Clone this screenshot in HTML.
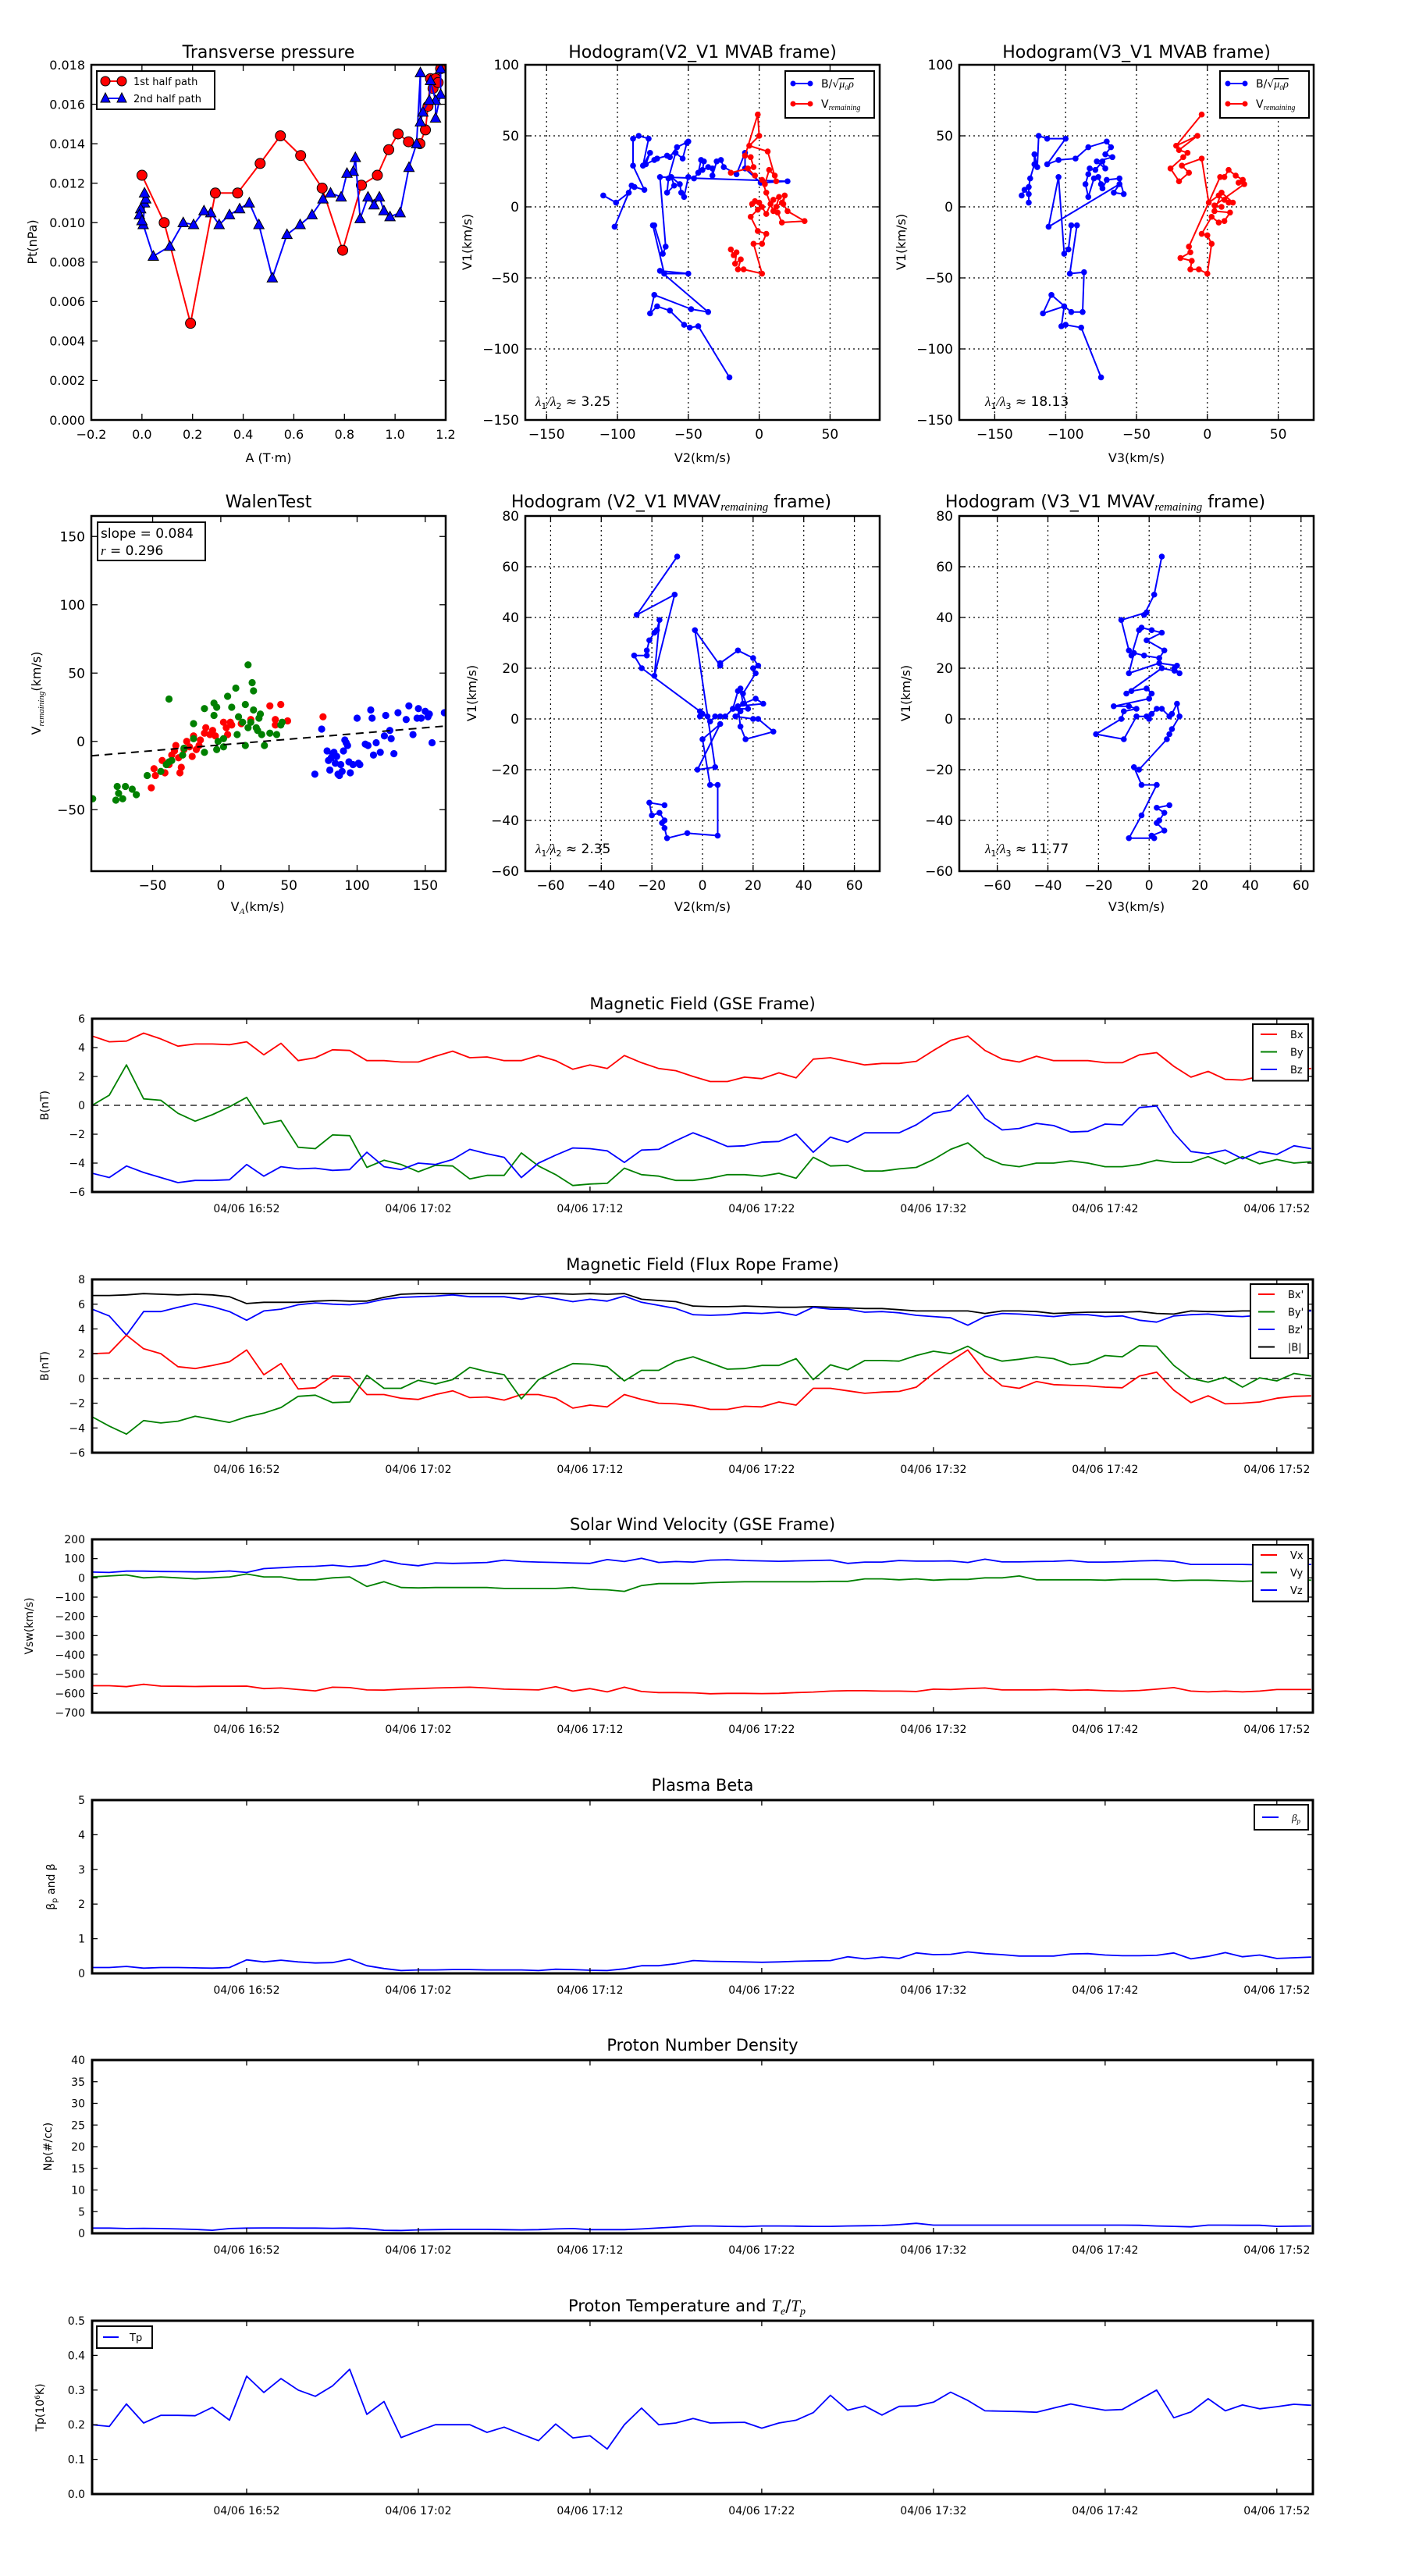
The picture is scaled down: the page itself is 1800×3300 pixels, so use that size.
<!DOCTYPE html>
<html><head><meta charset="utf-8"><title>Flux rope analysis</title>
<style>
html,body{margin:0;padding:0;background:#fff;}
svg{display:block;font-family:"DejaVu Sans","Liberation Sans",sans-serif;}
</style></head>
<body>
<svg id="fig" xmlns="http://www.w3.org/2000/svg" width="1800" height="3300" viewBox="0 0 1800 3300">
<rect x="0" y="0" width="1800" height="3300" fill="#fff"/>
</svg>
<script>
// ---------- data: transverse pressure ----------
const tpRedA=[0.0,0.088,0.192,0.29,0.378,0.467,0.547,0.627,0.712,0.793,0.867,0.93,0.975,1.012,1.053,1.098,1.12,1.13,1.14,1.15,1.16,1.17,1.18];
const tpRedP=[0.0124,0.0100,0.0049,0.0115,0.0115,0.0130,0.0144,0.0134,0.01175,0.0086,0.0119,0.0124,0.0137,0.0145,0.0141,0.0140,0.0147,0.0159,0.0173,0.0168,0.0173,0.0171,0.0178];
const tpBlueA=[1.18,1.18,1.16,1.16,1.14,1.135,1.11,1.1,1.1,1.085,1.055,1.02,0.98,0.956,0.938,0.917,0.893,0.862,0.843,0.835,0.81,0.787,0.745,0.715,0.672,0.625,0.573,0.515,0.462,0.424,0.386,0.346,0.305,0.272,0.245,0.204,0.163,0.11,0.045,0.005,0.01,0.015,0.01,-0.005,-0.01,0.0];
const tpBlueP=[0.0178,0.0165,0.0153,0.0162,0.0172,0.0162,0.0156,0.0151,0.0176,0.0140,0.0128,0.0105,0.0103,0.0106,0.0113,0.0109,0.0113,0.0102,0.0133,0.0126,0.0125,0.0113,0.0115,0.0112,0.0104,0.0099,0.0094,0.0072,0.0099,0.0110,0.0107,0.0104,0.0099,0.0105,0.0106,0.0099,0.0100,0.0088,0.0083,0.0099,0.0110,0.0112,0.0115,0.0107,0.0104,0.0101];
// ---------- hodogram V2-V1 MVAB ----------
const h1bX=[-110,-101,-92,-102,-90,-88,-81,-89,-89,-85,-78,-82,-77,-80,-74,-72,-65,-63,-58,-50,-51,-54,-59,-64,-65,-60,-62,-56,-55,-53,-50,-46,-43,-41,-39,-40,-36,-33,-33,-30,-27,-25,-16,-10,-10,1,20,-70,-66,-68,-74,-75,-67,-50,-70,-36,-48,-74,-77,-72,-63,-53,-49,-43,-21];
const h1bY=[8,3,10,-14,15,14,12,29,48,50,48,29,38,30,33,34,36,35,42,46,45,34,38,20,10,15,21,16,10,7,21,20,24,33,32,26,28,27,22,32,33,28,23,38,27,17,18,21,-28,-33,-13,-13,-47,-47,-45,-74,-72,-62,-75,-70,-73,-83,-85,-84,-120];
const h1rX=[-20,-18,-16,-17,-13,-15,-11,2,-4,2,5,-1,-6,-1,2,-3,-5,0,5,8,10,14,12,16,18,17,20,32,16,13,10,5,2,4,7,11,12,6,-7,0,-1,-10,-6,-4,-20,-8,-3];
const h1rY=[-30,-34,-32,-40,-37,-44,-44,-47,-26,-26,-19,-17,-7,-2,0,4,2,3,-5,2,5,7,0,3,8,2,-3,-10,-11,-4,-3,10,19,16,26,22,18,39,43,50,65,36,35,28,24,27,22];
// ---------- hodogram V3-V1 MVAB ----------
const h2bX=[-131,-129,-126,-126,-126,-125,-122,-122,-120,-119,-113,-100,-113,-105,-93,-84,-71,-68,-72,-67,-78,-72,-74,-79,-83,-84,-86,-84,-80,-77,-75,-74,-71,-62,-59,-66,-62,-112,-105,-101,-98,-96,-92,-97,-87,-88,-96,-110,-116,-101,-103,-100,-89,-75];
const h2bY=[8,12,9,3,14,20,30,37,28,50,48,48,30,33,34,42,46,42,37,35,32,27,32,26,27,23,16,7,20,21,16,13,19,20,9,10,16,-14,21,-33,-30,-13,-13,-47,-46,-74,-74,-62,-75,-70,-84,-83,-85,-120];
const h2rX=[-4,-22,-7,-20,-14,-17,-26,-20,-13,-18,-4,1,8,12,15,18,10,5,16,12,8,3,-4,0,3,0,-6,-12,-11,-19,-12,-13,9,12,15,20,25,22,26,5,10];
const h2rY=[65,43,50,40,38,35,27,18,24,29,34,3,8,5,3,3,10,-3,-4,-10,-11,-7,-19,-20,-26,-47,-44,-44,-38,-36,-32,-28,21,21,26,22,19,17,16,1,0];
// ---------- hodograms MVAV ----------
const h3X=[-10,-26,-11,-19,-17,-18,-19,-21,-22,-22,-27,-24,-1,-1,0,2,3,5,7,9,12,15,13,20,22,28,17,15,14,24,21,16,15,18,12,14,16,21,20,22,20,14,7,7,-3,5,-2,7,0,3,6,6,-6,-14,-15,-16,-15,-17,-20,-21,-15];
const h3Y=[64,41,49,17,39,35,34,31,27,25,25,20,3,1,2,1,-1,1,1,1,4,3,1,0,0,-5,-8,-3,5,6,8,6,12,4,4,11,10,18,20,21,24,27,22,21,35,-19,-20,-2,-8,-26,-26,-46,-45,-47,-43,-41,-40,-37,-38,-33,-34];
const h4X=[5,2,-2,-1,-11,-8,-7,-4,-3,1,5,-1,6,4,-2,-6,-8,4,11,10,12,10,5,-9,-7,-1,1,0,-14,-8,-5,-10,-11,-21,-10,-5,-1,0,1,3,5,8,9,11,12,9,8,7,-4,-6,-3,3,-3,-8,2,1,6,3,4,6,3,8];
const h4Y=[64,49,41,42,39,27,25,35,36,35,34,31,27,24,25,26,18,22,21,20,18,19,20,10,11,12,10,8,5,5,4,3,0,-6,-8,1,1,0,2,4,4,1,2,6,1,-4,-6,-8,-20,-19,-26,-26,-38,-47,-47,-46,-44,-41,-40,-37,-35,-34];
// ---------- Walen test ----------
const wBlueX=[69,74,78,79,80,81,82,83,84,85,86,87,88,89,90,91,92,93,94,95,97,100,101,102,106,108,110,111,112,114,117,120,121,124,125,127,130,136,138,141,144,145,147,150,152,153,155,164];
const wBlueY=[-24,9,-7,-14,-21,-12,-9,-8,-16,-11,-24,-25,-17,-22,-7,1,-1,-3,-15,-23,-17,17,-16,-17,-2,-3,23,17,-10,-1,-8,4,19,8,2,-9,21,16,26,5,17,24,17,22,18,20,-1,21];
const wGreenX=[-94,-77,-76,-75,-72,-70,-65,-62,-54,-44,-38,-38,-40,-36,-28,-27,-20,-20,-12,-12,-5,-5,-3,-3,-2,2,2,5,8,11,13,12,16,18,18,20,20,22,23,24,24,26,27,28,29,30,32,36,41,44,45];
const wGreenY=[-42,-43,-33,-38,-42,-33,-35,-39,-25,-22,31,-15,-17,-14,-10,-5,13,2,24,-8,28,19,25,-6,0,2,-4,33,25,39,18,5,14,27,-3,56,10,14,43,37,23,10,8,17,20,5,-3,6,5,12,14];
const wRedX=[-51,-49,-48,-43,-41,-38,-36,-34,-33,-31,-30,-29,-27,-25,-23,-21,-20,-18,-16,-15,-12,-11,-8,-6,-4,2,4,5,7,8,36,40,40,44,49,75,22,15];
const wRedY=[-34,-20,-25,-14,-23,-17,-10,-7,-3,-12,-23,-19,-6,0,-4,-11,4,-6,-3,1,6,10,5,8,4,14,10,5,14,12,26,16,12,27,15,18,16,13];
const walenSlope=0.084;
const walenIntercept=-2.6;
// ---------- time series (1-min cadence starting 04/06 16:43) ----------
const timeTickMinutes=[9,19,29,39,49,59,69];
const timeTickLabels=["04/06 16:52","04/06 17:02","04/06 17:12","04/06 17:22","04/06 17:32","04/06 17:42","04/06 17:52"];
const bxGSE=[4.8,4.4,4.45,5.0,4.6,4.1,4.25,4.25,4.2,4.4,3.5,4.3,3.1,3.3,3.85,3.8,3.1,3.1,3.0,3.0,3.4,3.75,3.3,3.35,3.1,3.1,3.45,3.1,2.5,2.8,2.55,3.45,2.95,2.55,2.4,2.0,1.65,1.65,1.95,1.85,2.25,1.9,3.2,3.3,3.05,2.8,2.9,2.9,3.05,3.8,4.5,4.8,3.8,3.2,3.0,3.4,3.1,3.1,3.1,2.95,2.95,3.5,3.65,2.7,1.95,2.35,1.8,1.75,2.0,2.4,2.5,2.55];
const byGSE=[0.0,0.7,2.8,0.45,0.35,-0.55,-1.1,-0.65,-0.1,0.55,-1.3,-1.05,-2.9,-3.0,-2.05,-2.1,-4.3,-3.8,-4.1,-4.6,-4.15,-4.2,-5.1,-4.85,-4.85,-3.3,-4.2,-4.8,-5.55,-5.45,-5.4,-4.35,-4.8,-4.9,-5.2,-5.2,-5.05,-4.8,-4.8,-4.9,-4.7,-5.05,-3.6,-4.2,-4.15,-4.55,-4.55,-4.4,-4.3,-3.75,-3.05,-2.6,-3.6,-4.1,-4.25,-4.0,-4.0,-3.85,-4.0,-4.25,-4.25,-4.1,-3.8,-3.95,-3.95,-3.55,-4.05,-3.55,-4.05,-3.75,-4.0,-3.9];
const bzGSE=[-4.7,-5.0,-4.2,-4.65,-5.0,-5.35,-5.2,-5.2,-5.15,-4.1,-4.9,-4.25,-4.4,-4.35,-4.5,-4.45,-3.25,-4.25,-4.45,-4.0,-4.1,-3.75,-3.05,-3.35,-3.6,-5.0,-4.0,-3.45,-2.95,-3.0,-3.15,-3.95,-3.1,-3.05,-2.45,-1.9,-2.35,-2.85,-2.8,-2.55,-2.5,-2.0,-3.25,-2.2,-2.55,-1.9,-1.9,-1.9,-1.35,-0.55,-0.35,0.7,-0.9,-1.7,-1.6,-1.25,-1.4,-1.85,-1.8,-1.3,-1.35,-0.15,-0.05,-1.9,-3.2,-3.35,-3.1,-3.7,-3.2,-3.4,-2.8,-3.0];
const bxFR=[2.0,2.05,3.5,2.4,2.0,0.95,0.8,1.05,1.35,2.3,0.3,1.2,-0.85,-0.75,0.2,0.15,-1.3,-1.3,-1.6,-1.7,-1.3,-1.0,-1.55,-1.5,-1.75,-1.3,-1.3,-1.6,-2.4,-2.15,-2.3,-1.3,-1.7,-2.0,-2.05,-2.2,-2.5,-2.5,-2.25,-2.3,-1.9,-2.15,-0.8,-0.8,-1.0,-1.2,-1.1,-1.05,-0.7,0.4,1.4,2.3,0.5,-0.6,-0.8,-0.25,-0.5,-0.55,-0.6,-0.7,-0.75,0.2,0.5,-0.95,-1.95,-1.4,-2.05,-2.0,-1.9,-1.6,-1.45,-1.4];
const byFR=[-3.1,-3.85,-4.5,-3.4,-3.6,-3.45,-3.05,-3.3,-3.55,-3.1,-2.8,-2.35,-1.45,-1.35,-1.95,-1.9,0.25,-0.8,-0.8,-0.15,-0.45,-0.1,0.9,0.55,0.3,-1.65,-0.1,0.6,1.2,1.15,0.95,-0.2,0.65,0.65,1.4,1.75,1.25,0.75,0.8,1.05,1.05,1.6,-0.1,1.1,0.7,1.45,1.45,1.4,1.85,2.2,2.0,2.6,1.8,1.4,1.55,1.75,1.6,1.1,1.25,1.85,1.75,2.65,2.6,1.05,0.0,-0.3,0.1,-0.7,0.05,-0.2,0.4,0.2];
const bzFR=[5.6,5.05,3.5,5.4,5.4,5.75,6.05,5.8,5.4,4.7,5.45,5.6,5.95,6.1,6.0,5.95,6.1,6.4,6.55,6.6,6.65,6.75,6.6,6.6,6.6,6.4,6.65,6.45,6.2,6.4,6.25,6.65,6.15,5.9,5.65,5.15,5.1,5.15,5.3,5.25,5.35,5.1,5.75,5.6,5.6,5.35,5.4,5.3,5.1,5.0,4.9,4.3,5.0,5.25,5.2,5.1,5.0,5.15,5.15,5.0,5.05,4.7,4.55,5.05,5.15,5.2,5.05,5.0,5.1,5.3,5.4,5.45];
const bMag=[6.7,6.7,6.75,6.85,6.8,6.75,6.8,6.75,6.6,6.05,6.15,6.15,6.15,6.25,6.3,6.25,6.25,6.55,6.8,6.85,6.85,6.85,6.85,6.85,6.85,6.85,6.8,6.85,6.8,6.85,6.8,6.85,6.4,6.3,6.2,5.85,5.8,5.8,5.85,5.8,5.75,5.75,5.8,5.75,5.7,5.65,5.65,5.55,5.45,5.45,5.45,5.45,5.25,5.45,5.45,5.4,5.25,5.3,5.35,5.35,5.35,5.4,5.25,5.2,5.45,5.4,5.4,5.45,5.45,5.45,5.55,5.5];
const vx=[-560,-560,-565,-553,-562,-563,-564,-563,-563,-562,-575,-572,-580,-587,-568,-570,-582,-583,-578,-575,-572,-570,-568,-572,-578,-580,-582,-565,-588,-575,-592,-568,-590,-596,-596,-597,-602,-600,-600,-601,-600,-596,-593,-588,-586,-586,-588,-588,-590,-578,-580,-575,-572,-582,-582,-582,-580,-584,-582,-586,-588,-585,-578,-570,-588,-592,-588,-592,-588,-580,-580,-580];
const vy=[5,10,15,0,5,0,-5,0,5,20,5,5,-10,-10,0,5,-45,-20,-50,-52,-50,-50,-50,-50,-55,-55,-55,-55,-50,-60,-62,-70,-40,-30,-30,-30,-25,-22,-20,-20,-20,-20,-20,-18,-18,-5,-5,-10,-5,-12,-8,-8,0,0,10,-10,-10,-10,-10,-12,-8,-8,-8,-15,-12,-12,-15,-18,-15,-15,-10,-12];
const vz=[30,28,35,35,33,32,31,31,36,28,48,53,58,60,66,58,65,90,72,63,78,75,77,80,92,85,82,80,77,75,95,85,102,80,85,82,92,94,90,88,86,88,90,92,75,82,82,90,87,87,88,80,97,83,83,85,86,90,82,82,84,88,90,86,70,70,70,70,68,68,68,70];
const betaP=[0.17,0.17,0.2,0.15,0.17,0.17,0.16,0.15,0.17,0.39,0.33,0.38,0.33,0.30,0.31,0.41,0.22,0.14,0.08,0.1,0.1,0.11,0.11,0.1,0.1,0.1,0.08,0.12,0.11,0.09,0.08,0.13,0.22,0.22,0.28,0.37,0.35,0.34,0.33,0.32,0.33,0.35,0.36,0.37,0.48,0.42,0.47,0.43,0.59,0.54,0.55,0.62,0.57,0.54,0.5,0.5,0.5,0.56,0.57,0.53,0.51,0.51,0.52,0.59,0.42,0.49,0.6,0.48,0.53,0.43,0.45,0.47];
const np=[1.2,1.2,1.1,1.15,1.1,1.0,0.9,0.7,1.1,1.2,1.25,1.25,1.2,1.2,1.15,1.2,1.05,0.7,0.65,0.8,0.85,0.9,0.9,0.9,0.85,0.8,0.85,1.0,1.1,0.85,0.85,0.85,1.0,1.25,1.45,1.7,1.7,1.6,1.55,1.7,1.7,1.65,1.6,1.6,1.7,1.75,1.8,2.0,2.3,1.9,1.9,1.9,1.9,1.9,1.9,1.9,1.9,1.9,1.9,1.9,1.9,1.85,1.7,1.6,1.5,1.9,1.9,1.85,1.85,1.6,1.65,1.7];
const tp=[0.20,0.195,0.26,0.205,0.227,0.227,0.226,0.25,0.213,0.34,0.293,0.333,0.30,0.282,0.312,0.36,0.23,0.267,0.163,0.182,0.2,0.2,0.2,0.178,0.193,0.173,0.154,0.202,0.162,0.168,0.13,0.2,0.248,0.2,0.205,0.218,0.205,0.206,0.207,0.19,0.205,0.213,0.235,0.285,0.242,0.254,0.228,0.253,0.254,0.265,0.294,0.27,0.24,0.239,0.238,0.236,0.248,0.26,0.25,0.242,0.244,0.272,0.3,0.22,0.237,0.275,0.24,0.257,0.246,0.252,0.259,0.256];

// ---------- drawing helpers ----------
const NS='http://www.w3.org/2000/svg';
const svg=document.getElementById('fig');
let clipId=0;
function el(tag,attrs,name,parent){
  const e=document.createElementNS(NS,tag);
  for(const k in attrs) e.setAttribute(k,attrs[k]);
  
  
  (parent||svg).appendChild(e);
  return e;
}
function text(s,x,y,size,name,anchor,parent,extra){
  const a={x:x,y:y,'font-size':size,'text-anchor':anchor||'middle',fill:'#000'};
  if(extra) for(const k in extra) a[k]=extra[k];
  const t=el('text',a,name,parent);
  t.textContent=s;
  return t;
}
function sub(t,s,opts){
  const ts=document.createElementNS(NS,'tspan');
  for(const k in opts) ts.setAttribute(k,opts[k]);
  ts.textContent=s;
  t.appendChild(ts);
  return ts;
}
function axes(c){
  const g=el('g',{},c.name);
  const sx=v=>c.x0+(v-c.xmin)/(c.xmax-c.xmin)*c.w;
  const sy=v=>c.y0+c.h-(v-c.ymin)/(c.ymax-c.ymin)*c.h;
  clipId++;
  const cp=el('clipPath',{id:'cp'+clipId},c.name+'-clip',g);
  el('rect',{x:c.x0,y:c.y0,width:c.w,height:c.h},c.name+'-clip-rect',cp);
  if(c.grid){
    c.xticks.forEach(v=>el('line',{x1:sx(v),x2:sx(v),y1:c.y0,y2:c.y0+c.h,stroke:'#000','stroke-width':1.2,'stroke-dasharray':'2,4'},'x-gridline',g));
    c.yticks.forEach(v=>el('line',{x1:c.x0,x2:c.x0+c.w,y1:sy(v),y2:sy(v),stroke:'#000','stroke-width':1.2,'stroke-dasharray':'2,4'},'y-gridline',g));
  }
  const data=el('g',{'clip-path':'url(#cp'+clipId+')'},c.name+'-data',g);
  const tl=c.tickLen||8;
  const fs=c.fontSize||16;
  c.xticks.forEach((v,i)=>{
    el('line',{x1:sx(v),x2:sx(v),y1:c.y0+c.h,y2:c.y0+c.h-tl,stroke:'#000','stroke-width':1.3},'x-tick',g);
    el('line',{x1:sx(v),x2:sx(v),y1:c.y0,y2:c.y0+tl,stroke:'#000','stroke-width':1.3},'x-tick-top',g);
    text(c.xlabels?c.xlabels[i]:c.xfmt(v),sx(v),c.y0+c.h+(c.xLabOff||22),fs,'x-tick-label','middle',g);
  });
  c.yticks.forEach((v,i)=>{
    el('line',{x1:c.x0,x2:c.x0+tl,y1:sy(v),y2:sy(v),stroke:'#000','stroke-width':1.3},'y-tick',g);
    el('line',{x1:c.x0+c.w,x2:c.x0+c.w-tl,y1:sy(v),y2:sy(v),stroke:'#000','stroke-width':1.3},'y-tick-right',g);
    text(c.yfmt(v),c.x0-(c.yLabOff||8),sy(v)+fs*0.36,fs,'y-tick-label','end',g);
  });
  const frame=()=>el('rect',{x:c.x0,y:c.y0,width:c.w,height:c.h,fill:'none',stroke:'#000','stroke-width':c.frameW||2.5},c.name+'-frame',g);
  return {sx,sy,g,data,frame};
}
function fmtMinus(v,d){const s=(d!==undefined)?Math.abs(v).toFixed(d):String(Math.abs(v));return (v<0?'\u2212':'')+s;}
function polyline(ax,xs,ys,color,w,name){
  const pts=xs.map((x,i)=>ax.sx(x).toFixed(1)+','+ax.sy(ys[i]).toFixed(1)).join(' ');
  return el('polyline',{points:pts,fill:'none',stroke:color,'stroke-width':w,'stroke-linejoin':'round'},name,ax.data);
}
function dots(ax,xs,ys,color,r,name,stroke){
  xs.forEach((x,i)=>{
    const c=el('circle',{cx:ax.sx(x),cy:ax.sy(ys[i]),r:r,fill:color},name,ax.data);
    if(stroke){c.setAttribute('stroke','#000');c.setAttribute('stroke-width',1);}
  });
}
function triangles(ax,xs,ys,color,s,name){
  xs.forEach((x,i)=>{
    const cx=ax.sx(x),cy=ax.sy(ys[i]);
    el('polygon',{points:`${cx},${cy-s} ${cx-s*0.95},${cy+s*0.75} ${cx+s*0.95},${cy+s*0.75}`,fill:color,stroke:'#000','stroke-width':1},name,ax.data);
  });
}
function range(a,b,st){const r=[];for(let v=a;v<=b+1e-9;v+=st)r.push(Math.round(v*1e6)/1e6);return r;}

// ---------- Transverse pressure ----------
(function(){
  const ax=axes({name:'transverse-pressure-plot',x0:117,y0:83,w:454,h:455,xmin:-0.2,xmax:1.2,ymin:0,ymax:0.018,
    xticks:range(-0.2,1.2,0.2),yticks:range(0,0.018,0.002),xfmt:v=>fmtMinus(v,1),yfmt:v=>v.toFixed(3),fontSize:16,xLabOff:24});
  polyline(ax,tpRedA,tpRedP,'#f00',2,'first-half-path-line');
  dots(ax,tpRedA,tpRedP,'#f00',6.5,'first-half-path-marker',true);
  polyline(ax,tpBlueA,tpBlueP,'#00f',2,'second-half-path-line');
  triangles(ax,tpBlueA,tpBlueP,'#00f',7,'second-half-path-marker');
  ax.frame();
  text('Transverse pressure',344,74,22,'transverse-pressure-title');
  text('A (T\u00b7m)',344,592,16,'x-axis-title');
  text('Pt(nPa)',47,310,16,'y-axis-title','middle',null,{transform:'rotate(-90 47 310)'});
  const lg=el('g',{},'legend');
  el('rect',{x:124,y:91,width:151,height:49,fill:'#fff',stroke:'#000','stroke-width':2},'legend-box',lg);
  el('line',{x1:135,x2:156,y1:104,y2:104,stroke:'#f00','stroke-width':2},'legend-line-first',lg);
  el('circle',{cx:135,cy:104,r:6,fill:'#f00',stroke:'#000','stroke-width':1},'legend-marker-first',lg);
  el('circle',{cx:156,cy:104,r:6,fill:'#f00',stroke:'#000','stroke-width':1},'legend-marker-first',lg);
  text('1st half path',171,109,13,'legend-label-first','start',lg);
  el('line',{x1:135,x2:156,y1:126,y2:126,stroke:'#00f','stroke-width':2},'legend-line-second',lg);
  el('polygon',{points:'135,119 129,131 141,131',fill:'#00f',stroke:'#000','stroke-width':1},'legend-marker-second',lg);
  el('polygon',{points:'156,119 150,131 162,131',fill:'#00f',stroke:'#000','stroke-width':1},'legend-marker-second',lg);
  text('2nd half path',171,131,13,'legend-label-second','start',lg);
})();

function hodoLegend(x,y,twoEntries){
  const lg=el('g',{},'hodogram-legend');
  el('rect',{x:x,y:y,width:114,height:60,fill:'#fff',stroke:'#000','stroke-width':2},'legend-box',lg);
  el('line',{x1:x+8,x2:x+34,y1:y+16,y2:y+16,stroke:'#00f','stroke-width':2},'legend-line-b',lg);
  el('circle',{cx:x+10,cy:y+16,r:3.5,fill:'#00f'},'legend-marker-b',lg);
  el('circle',{cx:x+32,cy:y+16,r:3.5,fill:'#00f'},'legend-marker-b',lg);
  const t1=text('B/\u221a',x+46,y+21,14,'legend-label-b','start',lg);
  sub(t1,'\u03bc\u2080\u03c1',{'font-style':'italic','font-family':'Liberation Serif, serif','text-decoration':'overline'});
  el('line',{x1:x+8,x2:x+34,y1:y+42,y2:y+42,stroke:'#f00','stroke-width':2},'legend-line-v',lg);
  el('circle',{cx:x+10,cy:y+42,r:3.5,fill:'#f00'},'legend-marker-v',lg);
  el('circle',{cx:x+32,cy:y+42,r:3.5,fill:'#f00'},'legend-marker-v',lg);
  const t2=text('V',x+46,y+47,14,'legend-label-v','start',lg);
  sub(t2,'remaining',{'font-size':10,'font-style':'italic','font-family':'Liberation Serif, serif',dy:3});
}
function lambdaText(x,y,a,b,val){
  const t=text('',x,y,17,'eigenvalue-ratio','start',null,{});
  sub(t,'\u03bb',{'font-style':'italic','font-family':'Liberation Serif, serif'});
  sub(t,a,{'font-size':11,dy:4});
  sub(t,'/\u03bb',{'font-style':'italic','font-family':'Liberation Serif, serif',dy:-4});
  sub(t,b,{'font-size':11,dy:4});
  sub(t,' \u2248 '+val,{dy:-4});
}
// ---------- Hodogram V2_V1 MVAB ----------
(function(){
  const ax=axes({name:'hodogram-v2-v1-mvab',x0:673,y0:83,w:454,h:455,xmin:-165,xmax:85,ymin:-150,ymax:100,grid:true,
    xticks:range(-150,50,50),yticks:range(-150,100,50),xfmt:v=>fmtMinus(v),yfmt:v=>fmtMinus(v),fontSize:17,xLabOff:24});
  polyline(ax,h1bX,h1bY,'#00f',2,'b-hodogram-line');
  dots(ax,h1bX,h1bY,'#00f',3.8,'b-hodogram-point');
  polyline(ax,h1rX,h1rY,'#f00',2,'v-hodogram-line');
  dots(ax,h1rX,h1rY,'#f00',3.8,'v-hodogram-point');
  ax.frame();
  text('Hodogram(V2_V1 MVAB frame)',900,74,22,'hodogram-title');
  text('V2(km/s)',900,592,16,'x-axis-title');
  text('V1(km/s)',604,310,16,'y-axis-title','middle',null,{transform:'rotate(-90 604 310)'});
  hodoLegend(1006,91);
  lambdaText(686,520,'1','2','3.25');
})();
// ---------- Hodogram V3_V1 MVAB ----------
(function(){
  const ax=axes({name:'hodogram-v3-v1-mvab',x0:1229,y0:83,w:454,h:455,xmin:-175,xmax:75,ymin:-150,ymax:100,grid:true,
    xticks:range(-150,50,50),yticks:range(-150,100,50),xfmt:v=>fmtMinus(v),yfmt:v=>fmtMinus(v),fontSize:17,xLabOff:24});
  polyline(ax,h2bX,h2bY,'#00f',2,'b-hodogram-line');
  dots(ax,h2bX,h2bY,'#00f',3.8,'b-hodogram-point');
  polyline(ax,h2rX,h2rY,'#f00',2,'v-hodogram-line');
  dots(ax,h2rX,h2rY,'#f00',3.8,'v-hodogram-point');
  ax.frame();
  text('Hodogram(V3_V1 MVAB frame)',1456,74,22,'hodogram-title');
  text('V3(km/s)',1456,592,16,'x-axis-title');
  text('V1(km/s)',1160,310,16,'y-axis-title','middle',null,{transform:'rotate(-90 1160 310)'});
  hodoLegend(1563,91);
  lambdaText(1262,520,'1','3','18.13');
})();
// ---------- Walen test ----------
(function(){
  const ax=axes({name:'walen-test-plot',x0:117,y0:661,w:454,h:455,xmin:-95,xmax:165,ymin:-95,ymax:165,
    xticks:range(-50,150,50),yticks:range(-50,150,50),xfmt:v=>fmtMinus(v),yfmt:v=>fmtMinus(v),fontSize:17,xLabOff:24});
  dots(ax,wRedX,wRedY,'#f00',4.6,'walen-point-x');
  dots(ax,wGreenX,wGreenY,'#008000',4.6,'walen-point-y');
  dots(ax,wBlueX,wBlueY,'#00f',4.6,'walen-point-z');
  el('line',{x1:ax.sx(-95),y1:ax.sy(walenIntercept+walenSlope*-95),x2:ax.sx(165),y2:ax.sy(walenIntercept+walenSlope*165),stroke:'#000','stroke-width':2,'stroke-dasharray':'10,7'},'regression-line',ax.data);
  ax.frame();
  text('WalenTest',344,650,22,'walen-title');
  const xl=text('V',330,1167,16,'x-axis-title');
  sub(xl,'A',{'font-size':11,'font-style':'italic','font-family':'Liberation Serif, serif',dy:4});
  sub(xl,'(km/s)',{dy:-4});
  const yl=text('V',52,888,16,'y-axis-title','middle',null,{transform:'rotate(-90 52 888)'});
  sub(yl,'remaining',{'font-size':11,'font-style':'italic','font-family':'Liberation Serif, serif',dy:4});
  sub(yl,'(km/s)',{dy:-4});
  const bx=el('g',{},'fit-stats-box');
  el('rect',{x:125,y:669,width:138,height:49,fill:'#fff',stroke:'#000','stroke-width':2},'fit-stats-frame',bx);
  text('slope = 0.084',129,689,17,'slope-text','start',bx);
  const r=text('',129,711,17,'correlation-text','start',bx);
  sub(r,'r',{'font-style':'italic','font-family':'Liberation Serif, serif'});
  sub(r,' = 0.296',{});
})();
function mvavTitle(cx,label){
  const t=text(label+' MVAV',cx-40,650,22,'hodogram-title');
  sub(t,'remaining',{'font-size':15,'font-style':'italic','font-family':'Liberation Serif, serif',dy:4});
  sub(t,' frame)',{dy:-4});
}
// ---------- Hodogram V2_V1 MVAV ----------
(function(){
  const ax=axes({name:'hodogram-v2-v1-mvav',x0:673,y0:661,w:454,h:455,xmin:-70,xmax:70,ymin:-60,ymax:80,grid:true,
    xticks:range(-60,60,20),yticks:range(-60,80,20),xfmt:v=>fmtMinus(v),yfmt:v=>fmtMinus(v),fontSize:17,xLabOff:24});
  polyline(ax,h3X,h3Y,'#00f',2,'b-hodogram-line');
  dots(ax,h3X,h3Y,'#00f',3.8,'b-hodogram-point');
  ax.frame();
  mvavTitle(900,'Hodogram (V2_V1');
  text('V2(km/s)',900,1167,16,'x-axis-title');
  text('V1(km/s)',610,888,16,'y-axis-title','middle',null,{transform:'rotate(-90 610 888)'});
  lambdaText(686,1093,'1','2','2.35');
})();
// ---------- Hodogram V3_V1 MVAV ----------
(function(){
  const ax=axes({name:'hodogram-v3-v1-mvav',x0:1229,y0:661,w:454,h:455,xmin:-75,xmax:65,ymin:-60,ymax:80,grid:true,
    xticks:range(-60,60,20),yticks:range(-60,80,20),xfmt:v=>fmtMinus(v),yfmt:v=>fmtMinus(v),fontSize:17,xLabOff:24});
  polyline(ax,h4X,h4Y,'#00f',2,'b-hodogram-line');
  dots(ax,h4X,h4Y,'#00f',3.8,'b-hodogram-point');
  ax.frame();
  mvavTitle(1456,'Hodogram (V3_V1');
  text('V3(km/s)',1456,1167,16,'x-axis-title');
  text('V1(km/s)',1166,888,16,'y-axis-title','middle',null,{transform:'rotate(-90 1166 888)'});
  lambdaText(1262,1093,'1','3','11.77');
})();

// ---------- time series panels ----------
function tsPanel(o){
  const ax=axes({name:o.name,x0:118,y0:o.top,w:1564,h:222,xmin:0,xmax:71.1,ymin:o.ymin,ymax:o.ymax,
    xticks:timeTickMinutes,xlabels:timeTickLabels,yticks:o.yticks,yfmt:o.yfmt,fontSize:14,tickLen:7,frameW:3,xLabOff:26,yLabOff:9});
  if(o.zero){
    el('line',{x1:118,x2:1682,y1:ax.sy(0),y2:ax.sy(0),stroke:'#000','stroke-width':1.3,'stroke-dasharray':'8,6'},'zero-line',ax.data);
  }
  o.series.forEach(s=>{
    polyline(ax,s.vals.map((v,i)=>i),s.vals,s.color,1.8,s.name);
  });
  ax.frame();
  text(o.title,900,o.top-12,21,'panel-title');
  return ax;
}
function tsLegend(x,y,w,entries){
  const lg=el('g',{},'series-legend');
  const h=entries.length*22.5+5;
  el('rect',{x:x,y:y,width:w,height:h,fill:'#fff',stroke:'#000','stroke-width':2},'legend-box',lg);
  entries.forEach((e,i)=>{
    const cy=y+13+i*22.5;
    el('line',{x1:x+10,x2:x+31,y1:cy,y2:cy,stroke:e.color,'stroke-width':2},'legend-line-'+e.key,lg);
    const t=text(e.label,x+48,cy+5,13,'legend-label-'+e.key,'start',lg);
  });
  return lg;
}
const ylab=(s,x,top)=>text(s,x,top+111,14,'y-axis-title','middle',null,{transform:`rotate(-90 ${x} ${top+111})`});

tsPanel({name:'magnetic-field-gse-plot',top:1305,ymin:-6,ymax:6,yticks:range(-6,6,2),yfmt:v=>fmtMinus(v),zero:true,
  title:'Magnetic Field (GSE Frame)',series:[{vals:bxGSE,color:'#f00',name:'bx-line'},{vals:byGSE,color:'#008000',name:'by-line'},{vals:bzGSE,color:'#00f',name:'bz-line'}]});
tsLegend(1605,1312,71,[{label:'Bx',color:'#f00',key:'bx'},{label:'By',color:'#008000',key:'by'},{label:'Bz',color:'#00f',key:'bz'}]);
ylab('B(nT)',62,1305);

tsPanel({name:'magnetic-field-flux-rope-plot',top:1639,ymin:-6,ymax:8,yticks:range(-6,8,2),yfmt:v=>fmtMinus(v),zero:true,
  title:'Magnetic Field (Flux Rope Frame)',series:[{vals:bMag,color:'#000',name:'b-magnitude-line'},{vals:bzFR,color:'#00f',name:'bz-prime-line'},{vals:bxFR,color:'#f00',name:'bx-prime-line'},{vals:byFR,color:'#008000',name:'by-prime-line'}]});
tsLegend(1602,1645,74,[{label:"Bx'",color:'#f00',key:'bx'},{label:"By'",color:'#008000',key:'by'},{label:"Bz'",color:'#00f',key:'bz'},{label:'|B|',color:'#000',key:'bmag'}]);
ylab('B(nT)',62,1639);

tsPanel({name:'solar-wind-velocity-plot',top:1972,ymin:-700,ymax:200,yticks:range(-700,200,100),yfmt:v=>fmtMinus(v),
  title:'Solar Wind Velocity (GSE Frame)',series:[{vals:vx,color:'#f00',name:'vx-line'},{vals:vy,color:'#008000',name:'vy-line'},{vals:vz,color:'#00f',name:'vz-line'}]});
tsLegend(1605,1979,71,[{label:'Vx',color:'#f00',key:'vx'},{label:'Vy',color:'#008000',key:'vy'},{label:'Vz',color:'#00f',key:'vz'}]);
ylab('Vsw(km/s)',42,1972);

tsPanel({name:'plasma-beta-plot',top:2306,ymin:0,ymax:5,yticks:range(0,5,1),yfmt:v=>String(v),
  title:'Plasma Beta',series:[{vals:betaP,color:'#00f',name:'beta-p-line'}]});
(function(){
  const lg=el('g',{},'beta-legend');
  el('rect',{x:1607,y:2312,width:69,height:32,fill:'#fff',stroke:'#000','stroke-width':2},'legend-box',lg);
  el('line',{x1:1617,x2:1638,y1:2328,y2:2328,stroke:'#00f','stroke-width':2},'legend-line-beta',lg);
  const t=text('\u03b2',1655,2333,13,'legend-label-beta','start',lg,{'font-style':'italic','font-family':'Liberation Serif, serif'});
  sub(t,'p',{'font-size':9,dy:3});
})();
(function(){
  const t=text('\u03b2',70,2417,14,'y-axis-title','middle',null,{transform:'rotate(-90 70 2417)'});
  sub(t,'p',{'font-size':10,dy:3});
  sub(t,' and ',{dy:-3,'font-style':'normal'});
  sub(t,'\u03b2',{});
})();

tsPanel({name:'proton-density-plot',top:2639,ymin:0,ymax:40,yticks:range(0,40,5),yfmt:v=>String(v),
  title:'Proton Number Density',series:[{vals:np,color:'#00f',name:'np-line'}]});
ylab('Np(#/cc)',66,2639);

tsPanel({name:'proton-temperature-plot',top:2973,ymin:0,ymax:0.5,yticks:range(0,0.5,0.1),yfmt:v=>v.toFixed(1),
  title:'',series:[{vals:tp,color:'#00f',name:'tp-line'}]});
(function(){
  const t=text('Proton Temperature and ',880,2961,21,'panel-title');
  sub(t,'T',{'font-style':'italic','font-family':'Liberation Serif, serif'});
  sub(t,'e',{'font-style':'italic','font-family':'Liberation Serif, serif','font-size':14,dy:4});
  sub(t,'/',{dy:-4});
  sub(t,'T',{'font-style':'italic','font-family':'Liberation Serif, serif'});
  sub(t,'p',{'font-style':'italic','font-family':'Liberation Serif, serif','font-size':14,dy:4});
  const lg=el('g',{},'tp-legend');
  el('rect',{x:124,y:2980,width:71,height:28,fill:'#fff',stroke:'#000','stroke-width':2},'legend-box',lg);
  el('line',{x1:132,x2:152,y1:2994,y2:2994,stroke:'#00f','stroke-width':2},'legend-line-tp',lg);
  text('Tp',166,2999,13,'legend-label-tp','start',lg);
  const y=text('Tp(10',56,3084,14,'y-axis-title','middle',null,{transform:'rotate(-90 56 3084)'});
  sub(y,'6',{'font-size':9,dy:-5});
  sub(y,'K)',{dy:5});
})();
</script>
</body></html>
